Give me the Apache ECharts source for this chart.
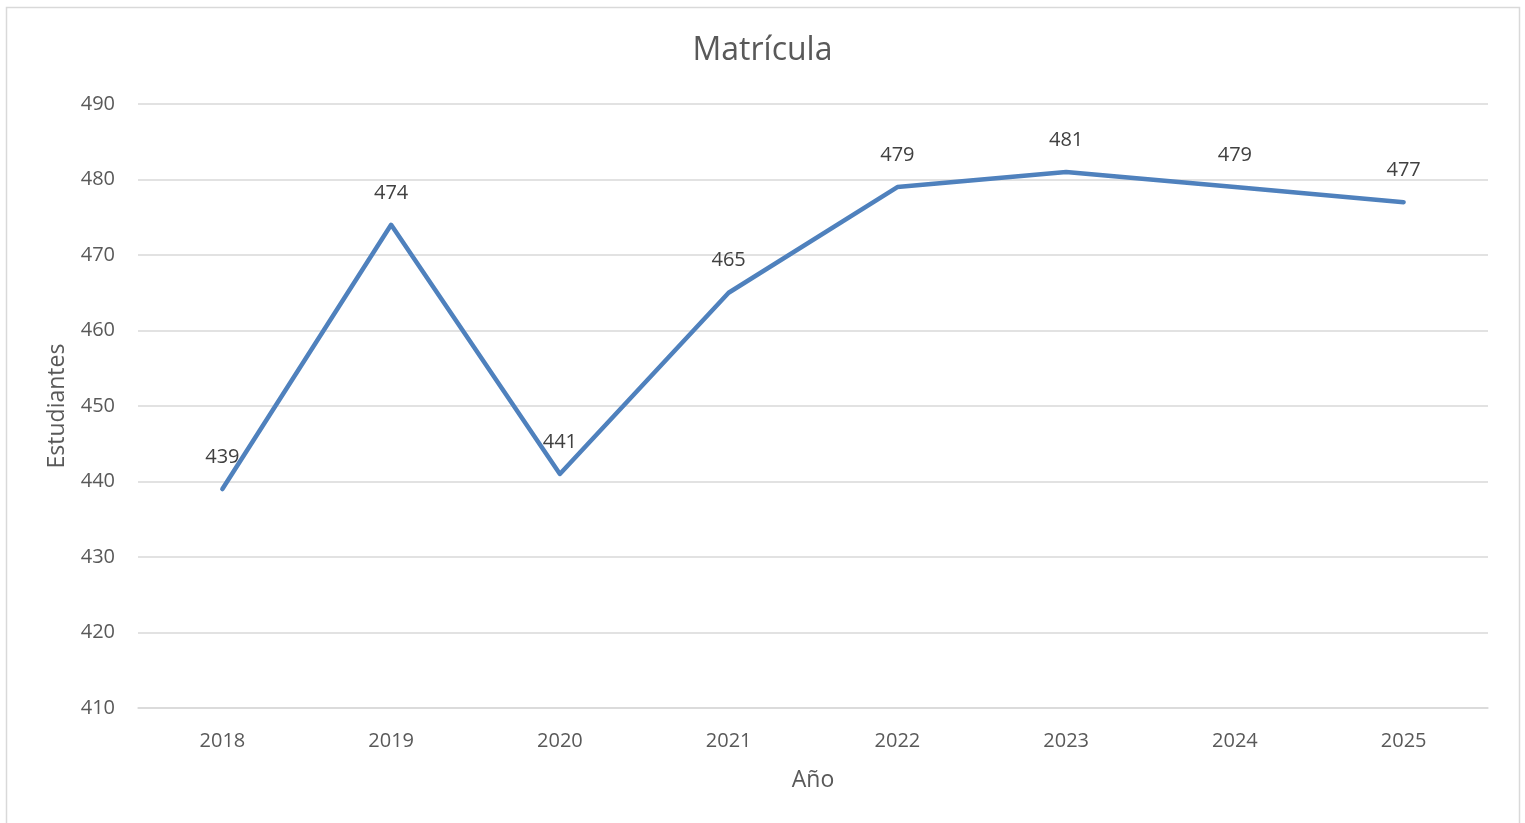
<!DOCTYPE html>
<html>
<head>
<meta charset="utf-8">
<script src="https://cdn.jsdelivr.net/npm/echarts@6/dist/echarts.min.js"></script>
<style>
html,body{margin:0;padding:0;background:#fff;}
#chart{width:1525px;height:823px;}
</style>
</head>
<body>
<div id="chart"></div>
<script>
const categories = ['2018','2019','2020','2021','2022','2023','2024','2025'];
const values = [439, 474, 441, 465, 479, 481, 479, 477];
const yMin = 410, yMax = 490, yStep = 10;

const chart = echarts.init(document.getElementById('chart'));
const font = '"Open Sans", "Liberation Sans", sans-serif';
chart.setOption({
  backgroundColor: '#fff',
  animation: false,
  textStyle: { fontFamily: font },
  graphic: [{
    type: 'rect', left: 4, top: 5, silent: true, z: -1,
    shape: { width: 1513, height: 830 },
    style: { fill: 'none', stroke: '#d9d9d9', lineWidth: 1.5 }
  }],
  title: {
    text: 'Matrícula', left: 'center', top: 30,
    textStyle: { fontFamily: font, fontSize: 32, fontWeight: 'normal', color: '#595959' }
  },
  grid: { left: 138, right: 37, top: 104, bottom: 115, containLabel: false },
  xAxis: {
    type: 'category', data: categories, boundaryGap: true,
    name: 'Año', nameLocation: 'middle', nameGap: 61,
    nameTextStyle: { fontFamily: font, fontSize: 23, color: '#595959' },
    axisLine: { show: true, lineStyle: { color: '#d9d9d9', width: 1.5 } },
    axisTick: { show: false },
    axisLabel: { fontFamily: font, fontSize: 20, color: '#595959', margin: 23 }
  },
  yAxis: {
    type: 'value', min: yMin, max: yMax, interval: yStep,
    name: 'Estudiantes', nameLocation: 'middle', nameGap: 69,
    nameTextStyle: { fontFamily: font, fontSize: 23, color: '#595959' },
    axisLine: { show: false }, axisTick: { show: false },
    axisLabel: { fontFamily: font, fontSize: 20, color: '#595959', margin: 23 },
    splitLine: { lineStyle: { color: '#d9d9d9', width: 1.5 } }
  },
  series: [{
    type: 'line', data: values, symbol: 'circle', symbolSize: 2, showSymbol: true,
    lineStyle: { color: '#4F81BD', width: 4.5, cap: 'round', join: 'round' },
    itemStyle: { color: 'rgba(0,0,0,0)', borderWidth: 0 },
    label: {
      show: true, position: 'top', distance: 21,
      fontFamily: font, fontSize: 20, color: '#404040'
    },
    labelLayout: { hideOverlap: false }
  }]
});
</script>
</body>
</html>
